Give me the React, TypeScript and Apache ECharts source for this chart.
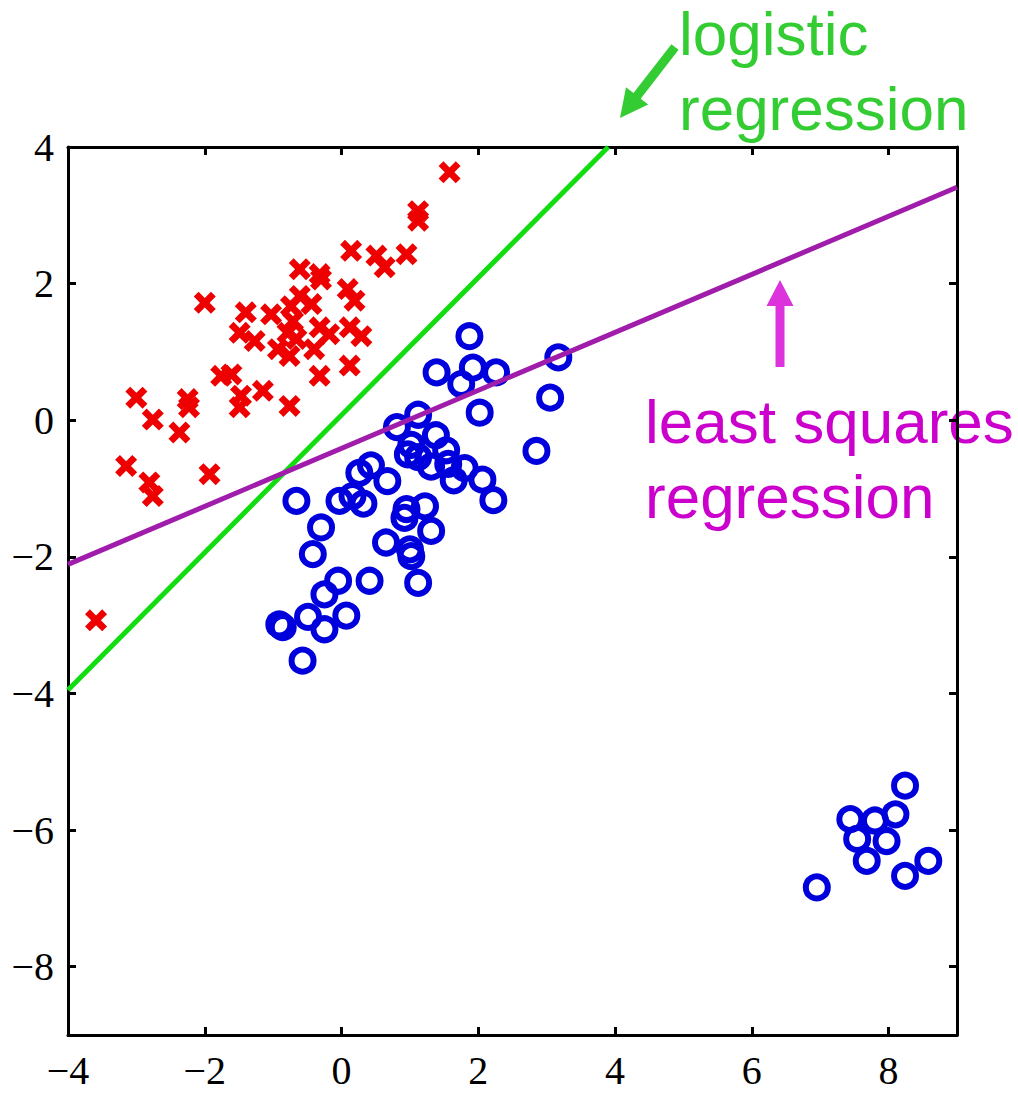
import React, { useEffect, useRef } from "react";
import * as echarts from "echarts";

const xTicks = [-4, -2, 0, 2, 4, 6, 8];
const yTicks = [-8, -6, -4, -2, 0, 2, 4];

const redPoints: [number, number][] = [
  [1.58, 3.63], [1.12, 3.06], [1.12, 2.92], [0.14, 2.48], [0.51, 2.41], [0.63, 2.24],
  [0.95, 2.43], [-0.61, 2.21], [-0.32, 2.14], [-0.3, 2.06], [0.09, 1.92], [0.19, 1.75],
  [-2.0, 1.72], [-0.61, 1.82], [-0.44, 1.7], [-0.74, 1.67], [-1.4, 1.58], [-1.03, 1.55],
  [-0.71, 1.45], [-1.49, 1.28], [-1.27, 1.16], [-0.93, 1.04], [-0.79, 1.28], [-0.76, 0.94],
  [-0.66, 1.19], [-0.32, 1.36], [-0.18, 1.26], [-0.4, 1.04], [0.12, 1.36], [0.29, 1.23],
  [0.12, 0.8], [-0.32, 0.65], [-1.76, 0.65], [-1.61, 0.67], [-3.0, 0.33], [-2.25, 0.31],
  [-2.23, 0.19], [-1.47, 0.36], [-1.49, 0.19], [-1.15, 0.43], [-0.76, 0.21], [-2.76, 0.01],
  [-2.37, -0.18], [-3.15, -0.67], [-1.93, -0.79], [-2.81, -0.91], [-2.76, -1.11], [-3.59, -2.93],
];

const bluePoints: [number, number][] = [
  [1.87, 1.23], [1.39, 0.7], [1.92, 0.77], [2.26, 0.7], [1.75, 0.53], [3.17, 0.92],
  [3.05, 0.33], [2.02, 0.11], [2.85, -0.45], [1.12, 0.08], [0.81, -0.1], [1.38, -0.22],
  [1.02, -0.36], [1.53, -0.44], [1.12, -0.54], [0.97, -0.5], [1.31, -0.68], [1.56, -0.64],
  [1.8, -0.7], [1.64, -0.88], [2.06, -0.87], [2.22, -1.17], [0.26, -0.77], [0.43, -0.66],
  [0.67, -0.89], [0.16, -1.11], [-0.66, -1.18], [-0.03, -1.18], [0.32, -1.22], [0.95, -1.3],
  [1.22, -1.26], [0.92, -1.43], [1.31, -1.62], [0.65, -1.79], [1.0, -1.89], [1.02, -1.99],
  [-0.3, -1.57], [-0.42, -1.96], [1.12, -2.38], [0.41, -2.35], [-0.05, -2.35], [-0.25, -2.55],
  [0.07, -2.86], [-0.49, -2.88], [-0.91, -2.99], [-0.86, -3.03], [-0.25, -3.06], [-0.57, -3.52],
  [8.24, -5.35], [7.44, -5.84], [7.8, -5.86], [8.1, -5.77], [7.54, -6.13], [7.97, -6.16],
  [7.68, -6.45], [8.24, -6.67], [8.58, -6.45], [6.95, -6.84],
];

const logisticLine: [number, number][] = [[-4, -3.95], [3.9, 4.0]];
const leastSquaresLine: [number, number][] = [[-4, -2.11], [9, 3.41]];

const crossPath =
  "path://M2.2,0 L5,2.8 L7.8,0 L10,2.2 L7.2,5 L10,7.8 L7.8,10 L5,7.2 L2.2,10 L0,7.8 L2.8,5 L0,2.2 Z";

const minusFmt = (v: number) => (v < 0 ? "\u2212" + Math.abs(v) : String(v));

export default function App() {
  const ref = useRef<HTMLDivElement>(null);
  useEffect(() => {
    if (!ref.current) return;
    const chart = echarts.init(ref.current, undefined, { renderer: "svg" });
    const axisLine = { show: true, onZero: false, lineStyle: { color: "#000", width: 3 } };
    const tickStyle = { lineStyle: { color: "#000", width: 3 } };
    const labelFont = {
      fontFamily: '"Liberation Serif", "Times New Roman", Times, serif',
      fontSize: 40,
      color: "#000",
    };
    const textFont = '62px "Liberation Sans", Arial, sans-serif';
    chart.setOption({
      animation: false,
      backgroundColor: "#fff",
      grid: { left: 68, top: 147, right: 61, bottom: 61, containLabel: false },
      xAxis: [
        {
          type: "value", min: -4, max: 9, position: "bottom",
          axisLine,
          axisTick: { show: true, inside: true, length: 8, customValues: xTicks, ...tickStyle },
          axisLabel: { show: true, customValues: xTicks, formatter: minusFmt, margin: 15, ...labelFont },
          splitLine: { show: false },
        },
        {
          type: "value", min: -4, max: 9, position: "top",
          axisLine,
          axisTick: { show: true, inside: true, length: 8, customValues: xTicks, ...tickStyle },
          axisLabel: { show: false },
          splitLine: { show: false },
        },
      ],
      yAxis: [
        {
          type: "value", min: -9, max: 4, position: "left",
          axisLine,
          axisTick: { show: true, inside: true, length: 8, customValues: yTicks, ...tickStyle },
          axisLabel: { show: true, customValues: yTicks, formatter: minusFmt, margin: 14, ...labelFont },
          splitLine: { show: false },
        },
        {
          type: "value", min: -9, max: 4, position: "right",
          axisLine,
          axisTick: { show: true, inside: true, length: 8, customValues: yTicks, ...tickStyle },
          axisLabel: { show: false },
          splitLine: { show: false },
        },
      ],
      series: [
        {
          type: "scatter",
          data: redPoints,
          symbol: crossPath,
          symbolSize: 22,
          itemStyle: { color: "#ee0000", opacity: 1 },
        },
        {
          type: "scatter",
          data: bluePoints,
          symbol: "circle",
          symbolSize: 22,
          itemStyle: { color: "rgba(0,0,0,0)", borderColor: "#0000dd", borderWidth: 6, opacity: 1 },
        },
        {
          type: "line",
          data: logisticLine,
          symbol: "none",
          clip: true,
          lineStyle: { color: "#11dd11", width: 5 },
        },
        {
          type: "line",
          data: leastSquaresLine,
          symbol: "none",
          clip: true,
          lineStyle: { color: "#a01caa", width: 5 },
        },
      ],
      graphic: [
        {
          type: "text", left: 679, top: 2,
          style: { text: "logistic", font: textFont, fill: "#33cc33" },
        },
        {
          type: "text", left: 679, top: 77,
          style: { text: "regression", font: textFont, fill: "#33cc33" },
        },
        {
          type: "polygon",
          shape: {
            points: [
              [678.6, 49.8], [640.7, 98.7], [648.2, 104.5], [620, 118],
              [626.0, 87.3], [633.5, 93.1], [671.4, 44.2],
            ],
          },
          style: { fill: "#33cc33" },
        },
        {
          type: "text", left: 645, top: 390,
          style: { text: "least squares", font: textFont, fill: "#cc00cc" },
        },
        {
          type: "text", left: 645, top: 465,
          style: { text: "regression", font: textFont, fill: "#cc00cc" },
        },
        {
          type: "polygon",
          shape: {
            points: [
              [775.5, 367], [775.5, 306], [766.5, 306], [780, 280],
              [793.5, 306], [784.5, 306], [784.5, 367],
            ],
          },
          style: { fill: "#dd33dd" },
        },
      ],
    });
    return () => chart.dispose();
  }, []);
  return (
    <div
      ref={ref}
      style={{ position: "absolute", left: 0, top: 0, width: 1018, height: 1096 }}
    />
  );
}
